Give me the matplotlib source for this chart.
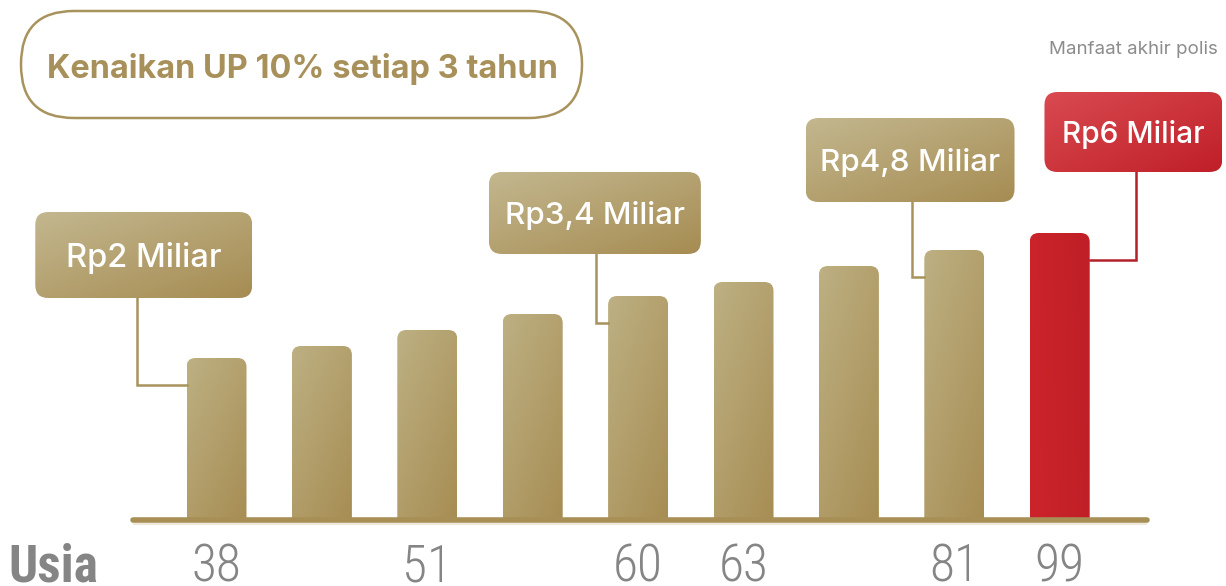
import matplotlib
matplotlib.use("Agg")
import matplotlib.pyplot as plt
import numpy as np
from matplotlib.colors import to_rgb
from matplotlib.patches import FancyBboxPatch
from matplotlib import font_manager

# ----- Data -----
ages = ["38", "", "51", "", "60", "63", "", "81", "99"]
bar_height = [162, 174, 190, 206, 224, 238, 254, 270, 287]   # visual height units
callout_bar = [0, 4, 7, 8]
callout_text = ["Rp2 Miliar", "Rp3,4 Miliar", "Rp4,8 Miliar", "Rp6 Miliar"]
title = "Kenaikan UP 10% setiap 3 tahun"
note = "Manfaat akhir polis"

GOLD_LT = "#c3b78f"
GOLD_DK = "#a68c52"
GOLD_LINE = "#a8935c"
RED_LT = "#d94a50"
RED_DK = "#c01f28"
RED_LINE = "#b3212a"
GREY_TXT = "#858585"

W, H = 1226, 586
STEP = 105.4           # px between bars
X0, Y0 = 216.5, 520    # first bar centre / baseline (px)

names = {f.name for f in font_manager.fontManager.ttflist}
cond = "Roboto Condensed" in names
AGE_FONT = ["Roboto Condensed", "Roboto", "DejaVu Sans"]

fig = plt.figure(figsize=(W / 100, H / 100), dpi=100)
ax = fig.add_axes([0, 0, 1, 1])
ax.axis("off")
ASPECT = STEP  # y units (px) per x unit (bar index)


def gradient(ax, patch, extent, c1, c2, ang=(1.0, 0.6), z=2):
    x0, x1, y0, y1 = extent
    n = 64
    gx, gy = np.meshgrid(np.linspace(0, 1, n), np.linspace(0, 1, n))
    t = gx * ang[0] + gy * ang[1]
    t = (t - t.min()) / (t.max() - t.min())
    a, b = np.array(to_rgb(c1)), np.array(to_rgb(c2))
    img = a[None, None, :] * (1 - t[..., None]) + b[None, None, :] * t[..., None]
    im = ax.imshow(img, extent=(x0, x1, y1, y0), origin="upper",
                   interpolation="bicubic", zorder=z, aspect="auto")
    im.set_clip_path(patch)


xs = np.arange(len(bar_height))
bw = 60 / STEP
bars = ax.bar(xs, bar_height, width=bw, color="none", zorder=1)
rr = 9 / STEP
for i, rect in enumerate(bars):
    x, w, h = rect.get_x(), rect.get_width(), rect.get_height()
    red = i == len(bars) - 1
    p = FancyBboxPatch((x, -30), w, h + 30,
                       boxstyle=f"round,pad=0,rounding_size={rr}",
                       mutation_aspect=ASPECT, fc="none", ec="none",
                       transform=ax.transData)
    ax.add_patch(p)
    if red:
        gradient(ax, p, (x, x + w, 0, h), "#cd242b", "#bf1f27", ang=(1, 0.1))
    else:
        gradient(ax, p, (x, x + w, 0, h), "#bdb083", "#a78d53", ang=(0.8, -1.0))

# baseline
ax.hlines(0, -0.79, 8.83, color="#a88f55", lw=4.0, zorder=3, capstyle="round")
ax.hlines(-3.5, -0.79, 8.83, color="#efe9dc", lw=1.5, zorder=2.5)

# age labels
age_size = 37 if cond else 35
for i, a in enumerate(ages):
    if a:
        ax.text(xs[i], -61, a, ha="center", va="baseline", fontsize=age_size,
                family=AGE_FONT, weight="light", color=GREY_TXT)
ax.text(-1.55, -61, "Usia", ha="center", va="baseline",
        fontsize=37 if cond else 32, family=AGE_FONT, weight="bold",
        color=GREY_TXT)

# callouts: box centre offset (bar units), box bottom/top (px above base), box width (px), line x offset
box_dx = [-0.69, -0.41, -0.42, 0.70]
box_w = [217, 212, 209, 178]
box_bot = [222, 266, 318, 348]
box_top = [308, 348, 402, 428]
line_dx = [-0.75, -0.40, -0.40, 0.72]
label_size = [23.5, 22.6, 22.6, 21.5]
hook = 27
for k, bi in enumerate(callout_bar):
    red = bi == len(bar_height) - 1
    cx = xs[bi] + box_dx[k]
    wx = box_w[k] / STEP
    bx = cx - wx / 2
    p = FancyBboxPatch((bx, box_bot[k]), wx, box_top[k] - box_bot[k],
                       boxstyle=f"round,pad=0,rounding_size={13 / STEP}",
                       mutation_aspect=ASPECT, fc="none", ec="none")
    ax.add_patch(p)
    if red:
        gradient(ax, p, (bx, bx + wx, box_bot[k], box_top[k]), RED_LT, RED_DK,
                 ang=(1.0, -0.9), z=4)
    else:
        gradient(ax, p, (bx, bx + wx, box_bot[k], box_top[k]), GOLD_LT, GOLD_DK,
                 ang=(1.0, -1.1), z=4)
    cap = label_size[k] * 1.389 * 0.727
    ax.text(cx, (box_bot[k] + box_top[k]) / 2 - cap / 2, callout_text[k],
            ha="center", va="baseline", color="white", fontsize=label_size[k],
            weight="medium", family=["Inter", "DejaVu Sans"], zorder=5)
    lx = xs[bi] + line_dx[k]
    ly = bar_height[bi] - hook
    edge = xs[bi] + (bw / 2 if red else -bw / 2)
    ax.plot([lx, lx, edge], [box_bot[k], ly, ly],
            color=RED_LINE if red else GOLD_LINE, lw=1.8, zorder=3,
            solid_joinstyle="miter")

ax.set_xlim(-X0 / STEP, (W - X0) / STEP)
ax.set_ylim(-(H - Y0), Y0)

# title pill and note (figure pixel coords)
ov = fig.add_axes([0, 0, 1, 1], zorder=5)
ov.axis("off")
ov.set_xlim(0, W)
ov.set_ylim(H, 0)
pill = FancyBboxPatch((21, 11), 561, 107, boxstyle="round,pad=0,rounding_size=53",
                      fc="none", ec=GOLD_LINE, lw=1.8)
ov.add_patch(pill)
ov.text(302, 78, title, ha="center", va="baseline", fontsize=23.4, weight="bold",
        color="#a8905a", family=["Inter", "DejaVu Sans"])
ov.text(1218, 50, note, ha="right", va="center", fontsize=13.5,
        color="#8c8c8c", family=["Inter", "DejaVu Sans"])

fig.savefig("out.png", dpi=100, facecolor="white")
